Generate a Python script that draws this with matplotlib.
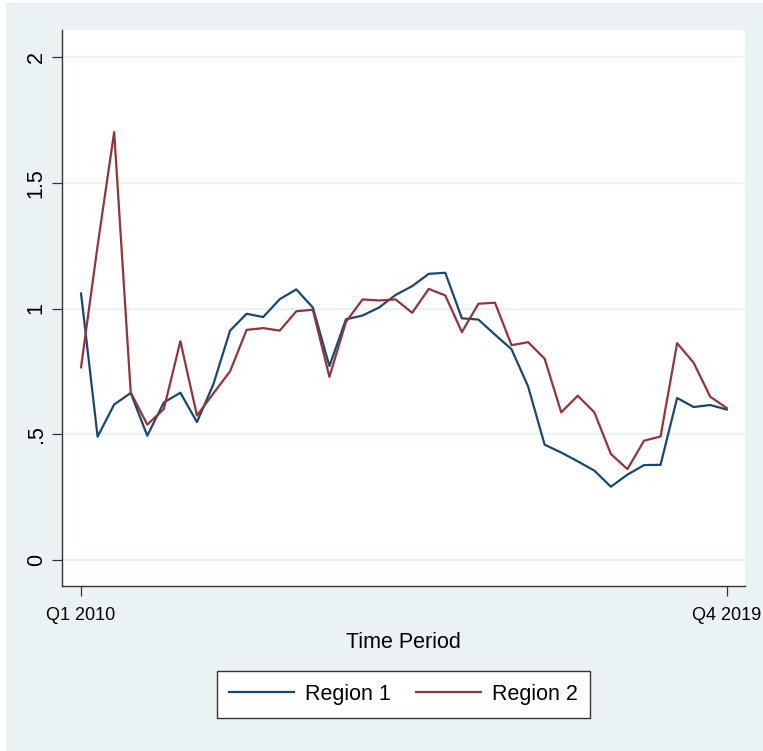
import numpy as np
import matplotlib
matplotlib.use("Agg")
import matplotlib.pyplot as plt
from matplotlib.patches import Rectangle

# quarterly index, Q1 2010 .. Q4 2019
quarters = np.arange(40)
tick_labels = ["Q1 2010", "Q4 2019"]

region1 = [1.06, 0.49, 0.618, 0.664, 0.494, 0.626, 0.665, 0.548, 0.70, 0.912,
           0.979, 0.966, 1.037, 1.076, 1.004, 0.771, 0.957, 0.972, 1.004, 1.054,
           1.089, 1.138, 1.142, 0.961, 0.956, 0.896, 0.838, 0.690, 0.458, 0.427,
           0.392, 0.355, 0.291, 0.339, 0.377, 0.378, 0.644, 0.608, 0.616, 0.598]
region2 = [0.766, 1.25, 1.702, 0.666, 0.538, 0.60, 0.87, 0.574, 0.663, 0.75,
           0.915, 0.922, 0.912, 0.989, 0.995, 0.728, 0.947, 1.036, 1.032, 1.036,
           0.983, 1.078, 1.052, 0.906, 1.019, 1.023, 0.854, 0.866, 0.80, 0.587,
           0.653, 0.587, 0.421, 0.361, 0.474, 0.491, 0.862, 0.784, 0.649, 0.604]

plt.rcParams["font.family"] = ["Liberation Sans", "DejaVu Sans"]
plt.rcParams["font.size"] = 15.5

BG = "#EAF2F3"
NAVY = "#1A476F"
MAROON = "#90353B"

W, H = 763, 751
fig = plt.figure(figsize=(W / 100, H / 100), dpi=100, facecolor="white")
fig.patches.append(Rectangle((6 / W, 0), 1 - 6 / W, 1 - 3 / H, transform=fig.transFigure,
                             facecolor=BG, edgecolor="none", zorder=-10))

ax = fig.add_axes([62 / W, 1 - 586 / H, (745 - 62) / W, (586 - 30) / H])
ax.set_facecolor("white")

ax.plot(quarters, region1, color=NAVY, lw=1.6, label="Region 1")
ax.plot(quarters, region2, color=MAROON, lw=1.6, label="Region 2")

ax.set_xlim(-1.15, 40.1)
ax.set_ylim(-0.104, 2.108)

ax.set_yticks([0, 0.5, 1, 1.5, 2])
ax.set_yticklabels(["0", ".5", "1", "1.5", "2"], rotation=90, va="center")
ax.set_xticks([0, 39])
ax.set_xticklabels(tick_labels, fontsize=13)

ax.grid(axis="y", color=BG, lw=1.6)
ax.set_axisbelow(True)
for s in ["top", "right"]:
    ax.spines[s].set_visible(False)
for s in ["left", "bottom"]:
    ax.spines[s].set_color("#333333")
    ax.spines[s].set_linewidth(1.0)
ax.tick_params(axis="both", length=7, width=0.9, color="#333333", labelcolor="black")
ax.tick_params(axis="y", pad=4)
ax.tick_params(axis="x", pad=8)

ax.set_xlabel("Time Period", labelpad=6)

leg = fig.legend(loc="center", bbox_to_anchor=(403.5 / W, 1 - 694.5 / H), ncol=2,
                 fancybox=False, edgecolor="#333333", framealpha=1,
                 handlelength=3.0, handletextpad=0.5, columnspacing=1.2,
                 borderpad=0.6, borderaxespad=0)
leg.get_frame().set_linewidth(1.0)

fig.savefig("out.png", dpi=100, facecolor="white")
